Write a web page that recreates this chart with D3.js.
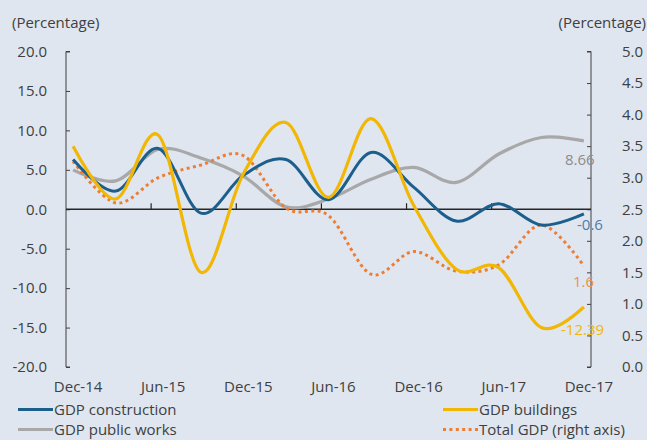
<!DOCTYPE html>
<html><head><meta charset="utf-8">
<script src="https://cdn.jsdelivr.net/npm/d3@7"></script>
<style>
html,body{margin:0;padding:0;background:#dfe6f0;}
svg{display:block;}
text{font-family:"Open Sans","Noto Sans",sans-serif;fill:#404040;}
</style></head><body>
<svg id="c" width="647" height="440"></svg>
<script>
// Quarterly observations, positioned on a monthly date axis (month index from Dec-14)
const months = [0,3,6,9,12,15,18,21,24,27,30,33,36];
const construction = [6.3,2.3,7.7,-0.5,4.3,6.3,1.2,7.2,2.8,-1.5,0.7,-2.0,-0.6];
const buildings    = [8.0,1.3,9.4,-8.0,4.5,11.0,1.5,11.5,0.5,-7.6,-7.4,-15.0,-12.39];
const publicWorks  = [5.0,3.6,7.6,6.5,4.2,0.3,1.3,3.8,5.3,3.4,7.0,9.1,8.66];
const totalGDP     = [3.26,2.6,3.0,3.2,3.35,2.52,2.4,1.47,1.83,1.52,1.62,2.25,1.6];
const xTickLabels = ["Dec-14","Jun-15","Dec-15","Jun-16","Dec-16","Jun-17","Dec-17"];
const xTickMonths = [0,6,12,18,24,30,36];
const leftTicks = [20,15,10,5,0,-5,-10,-15,-20];
const rightTicks = [5.0,4.5,4.0,3.5,3.0,2.5,2.0,1.5,1.0,0.5,0.0];
const endLabels = ["-0.6","-12.39","8.66","1.6"];

const svg = d3.select("#c");
const x0 = 66, x1 = 591;
const x = d3.scaleLinear().domain([-0.5, 36.5]).range([x0, x1]);
const y = d3.scaleLinear().domain([-20, 20]).range([367, 51.5]);
const yR = d3.scaleLinear().domain([0, 5]).range([367, 51.5]);

const axisColor = "#404040";
const fs = "15px";

// left axis
const gl = svg.append("g").attr("transform", `translate(${x0},0)`)
  .call(d3.axisRight(y).tickValues(leftTicks).tickSize(4).tickFormat(""));
gl.select(".domain").attr("stroke", axisColor).attr("d", `M4,${y(20)}H0V${y(-20)}H4`);
gl.selectAll(".tick line").attr("stroke", axisColor);
svg.append("g").selectAll("text").data(leftTicks).join("text")
  .attr("x", 47).attr("y", d => y(d)).attr("dy", "0.35em").attr("text-anchor", "end")
  .style("font-size", fs).text(d => d.toFixed(1));

// right axis
const gr = svg.append("g").attr("transform", `translate(${x1},0)`)
  .call(d3.axisLeft(yR).tickValues(rightTicks).tickSize(4).tickFormat(""));
gr.select(".domain").attr("stroke", axisColor).attr("d", `M-4,${yR(5)}H0V${yR(0)}H-4`);
gr.selectAll(".tick line").attr("stroke", axisColor);
svg.append("g").selectAll("text").data(rightTicks).join("text")
  .attr("x", 643).attr("y", d => yR(d)).attr("dy", "0.35em").attr("text-anchor", "end")
  .style("font-size", fs).text(d => d.toFixed(1));

// axis titles
svg.append("text").attr("x", 12).attr("y", 23).attr("dy", "0.35em").style("font-size", fs).text("(Percentage)");
svg.append("text").attr("x", 646).attr("y", 23).attr("dy", "0.35em").attr("text-anchor", "end").style("font-size", fs).text("(Percentage)");

// x axis at zero
const tickPos = [6,12,18,24,30].map(m => m - 0.5);
svg.append("line").attr("x1", x0).attr("x2", x1).attr("y1", y(0)).attr("y2", y(0)).attr("stroke", "#262626").attr("stroke-width", 1.3);
svg.append("g").selectAll("line").data(tickPos).join("line")
  .attr("x1", d => x(d)).attr("x2", d => x(d)).attr("y1", y(0)).attr("y2", y(0) - 6)
  .attr("stroke", "#262626").attr("stroke-width", 1.2);
svg.append("g").selectAll("text").data(xTickMonths).join("text")
  .attr("x", (d) => x(d) + 5).attr("y", 387).attr("dy", "0.35em").attr("text-anchor", "middle")
  .style("font-size", fs).text((d, i) => xTickLabels[i]);

const curve = d3.curveCardinal.tension(0);
const line = d3.line().x((d, i) => x(months[i])).y(d => y(d)).curve(curve);
const lineR = d3.line().x((d, i) => x(months[i])).y(d => yR(d)).curve(curve);

const cBlue = "#1d5f8c", cGold = "#f2b705", cGray = "#a8a8a8", cOrange = "#ee7d31";

svg.append("path").datum(publicWorks).attr("d", line).attr("fill", "none").attr("stroke", cGray).attr("stroke-width", 3.2);
svg.append("path").datum(totalGDP).attr("d", lineR).attr("fill", "none").attr("stroke", cOrange).attr("stroke-width", 3).attr("stroke-dasharray", "3,3.4");
svg.append("path").datum(construction).attr("d", line).attr("fill", "none").attr("stroke", cBlue).attr("stroke-width", 3);
svg.append("path").datum(buildings).attr("d", line).attr("fill", "none").attr("stroke", cGold).attr("stroke-width", 3.2);

// end labels
const lbl = [
  {t: endLabels[0], x: 577, y: 225, c: "#4a7fae"},
  {t: endLabels[1], x: 561, y: 330, c: "#f2b705"},
  {t: endLabels[2], x: 565, y: 160, c: "#8c8c8c"},
  {t: endLabels[3], x: 573, y: 282, c: "#f0904a"}
];
svg.append("g").selectAll("text").data(lbl).join("text")
  .attr("x", d => d.x).attr("y", d => d.y).attr("dy", "0.35em")
  .style("font-size", fs).style("fill", d => d.c).text(d => d.t);

// legend
const leg = [
  {t: "GDP construction", x: 18, y: 409.5, c: cBlue, dash: null},
  {t: "GDP public works", x: 18, y: 429.5, c: cGray, dash: null},
  {t: "GDP buildings", x: 443, y: 409.5, c: cGold, dash: null},
  {t: "Total GDP (right axis)", x: 443, y: 429.5, c: cOrange, dash: "3,3.4"}
];
const lg = svg.append("g").selectAll("g").data(leg).join("g");
lg.append("line").attr("x1", d => d.x).attr("x2", d => d.x + 35).attr("y1", d => d.y).attr("y2", d => d.y)
  .attr("stroke", d => d.c).attr("stroke-width", 3).attr("stroke-dasharray", d => d.dash);
lg.append("text").attr("x", d => d.x + 36).attr("y", d => d.y).attr("dy", "0.35em").style("font-size", fs).text(d => d.t);
</script>
</body></html>
